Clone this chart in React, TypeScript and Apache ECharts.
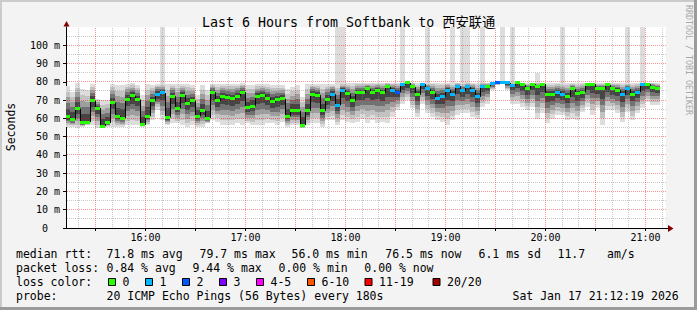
import React, { useEffect, useRef } from 'react';
import * as echarts from 'echarts';

// ---------------- data ----------------
const TITLE = 'Last 6 Hours from Softbank to 西安联通';
const START_MIN = 912 + 19 / 60; // 15:12:19 (minutes since midnight)
const END_MIN = START_MIN + 360; // 21:12:19
const FIRST_STEP_MIN = 912; // first RRD step 15:12
const STEP_MIN = 3; // 180 s

// median rtt per step (ms)
const median = [
  60.8, 59.4, 65.2, 57.5, 57.9, 69.6, 65.6, 55.7, 57.5, 68.5,
  61.2, 60.1, 70.3, 72.3, 70.3, 56.5, 61.2, 69.6, 73.2, 73.9,
  60.5, 72.1, 65.6, 72.7, 67.9, 69.6, 61.2, 64.1, 60.1, 74.3,
  69.6, 72.1, 71.6, 70.7, 72.1, 74.3, 65.7, 66.7, 72.1, 72.7,
  71.0, 69.0, 70.1, 70.7, 61.2, 64.1, 64.1, 56.3, 64.1, 73.2,
  72.7, 64.1, 70.3, 73.2, 67.2, 75.4, 73.6, 69.6, 74.3, 73.9,
  76.1, 74.3, 75.4, 73.9, 77.2, 75.4, 74.3, 78.3, 79.4, 77.2,
  72.9, 78.7, 76.1, 73.9, 71.0, 71.8, 75.4, 73.2, 77.6, 75.0,
  77.2, 75.4, 71.8, 77.2, 77.6, 79.0, 79.4, 79.4, 79.4, 78.0,
  79.4, 78.3, 76.1, 78.7, 77.2, 78.7, 73.2, 73.2, 74.3, 72.9,
  71.8, 76.1, 73.5, 74.3, 78.7, 78.7, 76.1, 76.1, 78.3, 76.1,
  75.4, 72.9, 76.1, 73.2, 74.3, 78.3, 78.7, 76.9, 76.1,
];

// lost pings per step (index into loss colours)
const lossIndex = [
  0, 0, 0, 0, 0, 0, 0, 0, 0, 0,
  0, 0, 0, 0, 0, 0, 0, 0, 1, 1,
  0, 0, 0, 0, 0, 0, 0, 0, 0, 0,
  0, 0, 0, 0, 0, 0, 0, 0, 0, 0,
  0, 0, 0, 0, 0, 0, 0, 0, 0, 0,
  0, 0, 0, 1, 1, 1, 0, 0, 0, 0,
  0, 0, 0, 0, 0, 1, 2, 1, 0, 0,
  0, 1, 1, 0, 1, 1, 1, 1, 1, 1,
  1, 1, 1, 1, 0, 1, 2, 1, 1, 1,
  0, 0, 0, 0, 0, 0, 0, 0, 1, 1,
  0, 0, 0, 0, 0, 0, 0, 0, 0, 0,
  0, 1, 1, 0, 1, 1, 0, 0, 0,
];

// smoke: lowest and highest ping per step (ms)
const smokeLow = [
  55.4, 55.4, 54.5, 55.4, 56.3, 56.3, 54.5, 54.5, 55.4, 55.4,
  55.4, 55.4, 56.3, 56.3, 56.3, 55.4, 56.3, 58.9, 64.5, 58.9,
  56.3, 57.2, 57.2, 56.3, 55.4, 56.3, 55.4, 55.4, 57.2, 58.9,
  58.0, 56.3, 56.3, 56.3, 57.2, 56.3, 57.2, 56.3, 56.3, 56.3,
  57.2, 57.2, 56.3, 58.0, 55.4, 56.3, 56.3, 54.5, 56.3, 57.2,
  57.2, 55.4, 58.9, 58.9, 56.3, 58.9, 58.0, 57.2, 58.0, 59.9,
  57.2, 58.9, 57.2, 58.0, 57.2, 60.8, 64.5, 68.1, 69.9, 65.4,
  60.8, 68.1, 62.7, 60.8, 58.9, 58.0, 56.3, 58.9, 61.7, 62.7,
  62.7, 60.8, 59.9, 66.3, 68.1, 75.4, 78.1, 79.0, 75.4, 68.1,
  68.1, 66.3, 64.5, 66.3, 59.9, 62.7, 57.2, 59.9, 61.7, 61.7,
  58.9, 59.9, 58.9, 63.6, 66.3, 61.7, 65.4, 56.6, 64.5, 64.5,
  62.7, 58.0, 63.6, 58.9, 62.7, 65.4, 69.0, 67.2, 67.2,
];
const smokeHigh = [
  77.6, 74.5, 79.4, 76.3, 75.4, 79.0, 70.8, 69.9, 69.9, 79.0,
  78.1, 78.1, 79.0, 79.4, 78.1, 72.7, 79.0, 78.1, 79.0, 79.0,
  79.0, 79.0, 79.0, 79.0, 79.0, 78.1, 72.7, 78.1, 75.4, 79.0,
  79.0, 79.0, 79.0, 79.0, 79.0, 79.4, 78.1, 78.1, 78.7, 79.0,
  78.7, 78.1, 78.1, 78.1, 76.3, 77.2, 78.1, 71.8, 78.7, 79.0,
  79.0, 79.0, 79.0, 79.0, 79.0, 79.4, 79.4, 79.4, 79.6, 79.6,
  79.6, 79.6, 79.6, 79.6, 79.6, 79.6, 79.6, 79.6, 80.0, 79.6,
  79.6, 79.6, 79.6, 79.6, 79.6, 79.6, 79.6, 79.6, 79.6, 79.6,
  79.6, 79.6, 79.6, 79.6, 79.6, 80.0, 80.0, 80.0, 80.0, 79.6,
  80.0, 79.6, 79.6, 79.6, 79.6, 79.6, 79.6, 79.6, 79.6, 79.6,
  79.6, 79.6, 79.6, 79.6, 79.6, 79.6, 79.6, 79.6, 79.6, 79.6,
  79.6, 79.6, 79.6, 79.6, 79.6, 79.6, 79.6, 79.6, 79.6,
];
// steps (1-based) whose slowest ping spikes far above the rest, and that ping (ms)
const spikeSteps = [20, 55, 56, 68, 73, 78, 80, 81, 84, 88, 90, 95, 100, 113, 116];
const spikeMax = [110, 110, 110, 110, 110, 110, 110, 110, 110, 110, 110, 85, 110, 110, 110];

const lossColors = ['#26ff00', '#00b8ff', '#0059ff', '#7e00ff', '#ff00ff', '#ff5500', '#ff0000', '#a10000'];
const lossLabels = ['0', '1', '2', '3', '4-5', '6-10', '11-19', '20/20'];

const xTickMinutes = [960, 1020, 1080, 1140, 1200, 1260];
const xTickLabels = ['16:00', '17:00', '18:00', '19:00', '20:00', '21:00'];

const rttLabel = 'median rtt:';
const rttStats = ['71.8 ms avg', '79.7 ms max', '56.0 ms min', '76.5 ms now', '6.1 ms sd', '11.7', 'am/s'];
const lossLabel = 'packet loss:';
const lossStats = ['0.84 % avg', '9.44 % max', '0.00 % min', '0.00 % now'];
const colorLabel = 'loss color:';
const probeLabel = 'probe:';
const probeText = '20 ICMP Echo Pings (56 Bytes) every 180s';
const dateText = 'Sat Jan 17 21:12:19 2026';
const yName = 'Seconds';
const watermark = 'RRDTOOL / TOBI OETIKER';

// ---------------- layout / style ----------------
const MONO = '"DejaVu Sans Mono", monospace';
const TITLE_FONT = '"DejaVu Sans Mono", "Noto Sans CJK SC", monospace';
const LEG_FS = 11.5;
const rttX = [106.5, 199.5, 291.5, 385.3, 478.5, 557.5, 607];
const lossX = [106.5, 192.5, 278.5, 364.3];
const boxX = [108.5, 145.5, 182.5, 219.5, 256.5, 307.5, 365, 433];
const legY = [254.3, 268.3, 282.3, 296];
const smokeShades = ['#dddddd', '#c2c2c2', '#9e9e9e', '#727272', '#454545'];
const smokeFractions = [1, 0.82, 0.64, 0.46, 0.27];
const Y_MAX = 110;

const stepStart = (i: number) => FIRST_STEP_MIN + i * STEP_MIN;

function buildOption(): any {
  const smokeData = median.map((m, i) => {
    const k = spikeSteps.indexOf(i + 1);
    const top = k >= 0 ? Math.max(spikeMax[k], smokeHigh[i]) : smokeHigh[i];
    return [Math.max(stepStart(i), START_MIN), stepStart(i) + STEP_MIN, m, smokeLow[i], smokeHigh[i], top];
  });
  const medianData = median.map((m, i) => [
    Math.max(stepStart(i), START_MIN),
    stepStart(i) + STEP_MIN,
    m,
    i > 0 ? median[i - 1] : m,
    lossIndex[i],
  ]);
  const vGrid: number[][] = [];
  for (let t = 920; t < END_MIN; t += 10) vGrid.push([t, 0]);
  const hGrid: number[][] = [];
  for (let v = 5; v < Y_MAX; v += 5) hGrid.push([START_MIN, v]);

  const text = (t: string, x: number, y: number, extra: any = {}) => ({
    type: 'text',
    x,
    y,
    silent: true,
    style: { text: t, fill: '#000', fontSize: LEG_FS, fontFamily: MONO, align: 'left', verticalAlign: 'middle', ...extra },
  });

  const graphics: any[] = [
    // 3D frame
    { type: 'rect', shape: { x: 0, y: 0, width: 697, height: 2 }, style: { fill: '#cbcbcb' }, silent: true },
    { type: 'rect', shape: { x: 0, y: 0, width: 2, height: 310 }, style: { fill: '#cbcbcb' }, silent: true },
    { type: 'rect', shape: { x: 694, y: 0, width: 3, height: 310 }, style: { fill: '#9b9b9b' }, silent: true },
    { type: 'rect', shape: { x: 0, y: 307, width: 697, height: 3 }, style: { fill: '#9b9b9b' }, silent: true },
    text(TITLE, 202, 22, { fontSize: 13.3, fontFamily: TITLE_FONT }),
    { ...text(yName, 10.5, 127, { align: 'center' }), rotation: Math.PI / 2 },
    { ...text(watermark, 688.5, 5, { fontSize: 8.3, fill: '#a8a8a8' }), rotation: -Math.PI / 2 },
    // axis arrows
    { type: 'line', shape: { x1: 666, y1: 228.5, x2: 669, y2: 228.5 }, style: { stroke: '#000', lineWidth: 1 }, silent: true },
    { type: 'polygon', shape: { points: [[668, 225], [673.5, 228.5], [668, 232]] }, style: { fill: '#800000' }, silent: true },
    { type: 'polygon', shape: { points: [[63.5, 26.5], [69.5, 26.5], [66.5, 21]] }, style: { fill: '#800000' }, silent: true },
    // legend
    text(rttLabel, 16, legY[0]),
    ...rttStats.map((s, i) => text(s, rttX[i], legY[0])),
    text(lossLabel, 16, legY[1]),
    ...lossStats.map((s, i) => text(s, lossX[i], legY[1])),
    text(colorLabel, 16, legY[2]),
    ...lossLabels.map((l, i) => ({
      type: 'rect',
      shape: { x: boxX[i], y: legY[2] - 3.8, width: 7, height: 7 },
      style: { fill: lossColors[i], stroke: '#000', lineWidth: 1 },
      silent: true,
    })),
    ...lossLabels.map((l, i) => text(l, boxX[i] + 14, legY[2])),
    text(probeLabel, 16, legY[3]),
    text(probeText, 106.5, legY[3]),
    text(dateText, 512.5, legY[3]),
  ];

  return {
    animation: false,
    backgroundColor: '#f3f3f3',
    grid: { left: 66, right: 31, top: 27, bottom: 82, show: true, backgroundColor: '#ffffff', borderWidth: 0 },
    xAxis: {
      type: 'value',
      min: START_MIN,
      max: END_MIN,
      axisLine: { show: true, onZero: false, lineStyle: { color: '#000', width: 1 } },
      axisTick: { show: false },
      axisLabel: { show: false },
      splitLine: { show: false },
    },
    yAxis: {
      type: 'value',
      min: 0,
      max: Y_MAX,
      interval: 10,
      axisLine: { show: true, onZero: false, lineStyle: { color: '#000', width: 1 } },
      axisTick: { show: true, length: 3, lineStyle: { color: '#000' } },
      axisLabel: {
        fontSize: 10,
        fontFamily: MONO,
        color: '#000',
        margin: 6,
        showMaxLabel: false,
        formatter: (v: number) => (v === 0 ? '{z|0}' : v <= 100 ? `${v} m` : ''),
        rich: { z: { fontSize: 10, fontFamily: MONO, color: '#000', padding: [0, 12, 0, 0] } },
      },
      splitLine: { show: false },
    },
    series: [
      {
        type: 'custom',
        name: 'smoke',
        z: 2,
        silent: true,
        data: smokeData,
        encode: { x: [0, 1], y: [2, 3, 4, 5] },
        renderItem: (params: any, api: any) => {
          const t0 = api.value(0), t1 = api.value(1), m = api.value(2);
          const lo = api.value(3), hi = api.value(4), top = api.value(5);
          const xa = Math.round(api.coord([t0, m])[0]);
          const xb = Math.round(api.coord([t1, m])[0]);
          const yTop = Math.round(api.coord([t0, Y_MAX])[1]);
          const children = smokeFractions.map((f, k) => {
            const up = k === 0 ? top : m + (hi - m) * f;
            const dn = m - (m - lo) * f;
            const ya = Math.max(Math.round(api.coord([t0, up])[1]), yTop);
            const yb = Math.round(api.coord([t0, dn])[1]);
            return {
              type: 'rect',
              shape: { x: xa, y: ya, width: xb - xa, height: Math.max(yb - ya, 1) },
              style: { fill: smokeShades[k] },
            };
          });
          return { type: 'group', children };
        },
      },
      {
        type: 'custom',
        name: 'hgrid',
        z: 3,
        silent: true,
        data: hGrid,
        encode: { x: 0, y: 1 },
        renderItem: (params: any, api: any) => {
          const v = api.value(1);
          const p1 = api.coord([START_MIN, v]);
          const p2 = api.coord([END_MIN, v]);
          const y = Math.floor(p1[1]) + 0.5;
          const red = v % 10 === 0;
          return {
            type: 'line',
            shape: { x1: p1[0] + 1, y1: y, x2: p2[0], y2: y },
            style: { stroke: red ? 'rgba(255,0,0,0.42)' : 'rgba(130,130,130,0.45)', lineWidth: 1, lineDash: [1, 1] },
          };
        },
      },
      {
        type: 'custom',
        name: 'vgrid',
        z: 3,
        silent: true,
        clip: false,
        data: vGrid,
        encode: { x: 0, y: 1 },
        renderItem: (params: any, api: any) => {
          const t = api.value(0);
          const p1 = api.coord([t, 0]);
          const p2 = api.coord([t, Y_MAX]);
          const x = Math.floor(p1[0]) + 0.5;
          const red = Math.round(t) % 30 === 0;
          const children: any[] = [
            {
              type: 'line',
              shape: { x1: x, y1: p1[1] - 1, x2: x, y2: p2[1] },
              style: { stroke: red ? 'rgba(255,0,0,0.42)' : 'rgba(130,130,130,0.45)', lineWidth: 1, lineDash: [1, 1] },
            },
          ];
          if (red) {
            children.push({
              type: 'line',
              shape: { x1: x, y1: p1[1] + 1, x2: x, y2: p1[1] + 3 },
              style: { stroke: '#000', lineWidth: 1 },
            });
          }
          return { type: 'group', children };
        },
      },
      {
        type: 'custom',
        name: 'xlabels',
        z: 3,
        silent: true,
        clip: false,
        data: xTickMinutes.map((t, i) => [t, 0, i]),
        encode: { x: 0, y: 1 },
        renderItem: (params: any, api: any) => {
          const p = api.coord([api.value(0), 0]);
          return {
            type: 'text',
            x: p[0],
            y: p[1] + 9.5,
            style: {
              text: xTickLabels[api.value(2)],
              fill: '#000',
              fontSize: 10,
              fontFamily: MONO,
              align: 'center',
              verticalAlign: 'middle',
            },
          };
        },
      },
      {
        type: 'custom',
        name: 'median',
        z: 5,
        silent: true,
        data: medianData,
        encode: { x: [0, 1], y: [2, 3] },
        renderItem: (params: any, api: any) => {
          const t0 = api.value(0), t1 = api.value(1), m = api.value(2), prev = api.value(3), li = api.value(4);
          const xa = Math.round(api.coord([t0, m])[0]);
          const xb = Math.round(api.coord([t1, m])[0]);
          const y = api.coord([t0, m])[1];
          const yp = api.coord([t0, prev])[1];
          return {
            type: 'group',
            children: [
              {
                type: 'line',
                shape: { x1: xa + 0.5, y1: yp, x2: xa + 0.5, y2: y },
                style: { stroke: '#000', lineWidth: 1 },
              },
              {
                type: 'rect',
                shape: { x: xa, y: Math.round(y - 1.5), width: xb - xa, height: 3 },
                style: { fill: lossColors[li] },
              },
            ],
          };
        },
      },
    ],
    graphic: graphics,
  };
}

export default function App() {
  const ref = useRef<HTMLDivElement>(null);
  useEffect(() => {
    if (!ref.current) return;
    const chart = echarts.init(ref.current, null, { renderer: 'svg' });
    chart.setOption(buildOption());
    return () => chart.dispose();
  }, []);
  return <div ref={ref} style={{ position: 'absolute', left: 0, top: 0, width: 697, height: 310 }} />;
}
